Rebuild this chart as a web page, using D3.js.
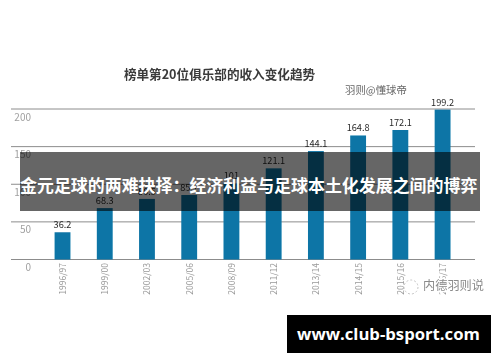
<!DOCTYPE html>
<html><head><meta charset="utf-8">
<style>html,body{margin:0;padding:0;background:#fff}svg{display:block}</style>
<script src="https://cdn.jsdelivr.net/npm/d3@7"></script></head>
<body><div id="c"></div>
<script>
const categories=["1996/97","1999/00","2002/03","2005/06","2008/09","2011/12","2013/14","2014/15","2015/16","2016/17"];
const valueLabels=["36.2","68.3","80.5","85.7","101","121.1","144.1","164.8","172.1","199.2"];
const values=[36.2,68.3,80.5,85.7,101,121.1,144.1,164.8,172.1,199.2];
const yTicks=[0,50,100,150,200];
const chartTitle="榜单第20位俱乐部的收入变化趋势";
const byline="羽则@懂球帝";
const bannerText="金元足球的两难抉择：经济利益与足球本土化发展之间的博弈";
const watermark="内德羽则说";
const siteText="www.club-bsport.com";
const font='"Noto Sans CJK SC","Open Sans",sans-serif';
const svg=d3.select("#c").append("svg").attr("width",500).attr("height",362).style("font-family",font);
const x=d3.scaleBand().domain(categories).range([41.4,463.7]).paddingInner(0.625).paddingOuter(0.3125);
const y=d3.scaleLinear().domain([0,200]).range([259.5,109]);
const defs=svg.append("defs");
defs.append("filter").attr("id","soft").append("feGaussianBlur").attr("stdDeviation",0.4);
const g=svg.append("g").attr("filter","url(#soft)");
g.append("text").attr("x",219.5).attr("y",78.5).attr("text-anchor","middle").attr("font-size",12.6).attr("font-weight",700).attr("fill","#3a3a3a").text(chartTitle);
g.append("text").attr("x",376).attr("y",93.5).attr("text-anchor","middle").attr("font-size",10.4).attr("fill","#666").text(byline);
g.append("g").selectAll("line").data(yTicks).join("line")
 .attr("x1",11).attr("x2",475).attr("y1",d=>y(d)).attr("y2",d=>y(d)).attr("stroke","#8c8c8c").attr("stroke-width",1);
g.append("g").selectAll("text").data(yTicks).join("text")
 .attr("x",31).attr("y",d=>y(d)+11.5).attr("text-anchor","end").attr("font-size",10).attr("fill","#a0a0a0").text(d=>d);
g.append("g").selectAll("rect").data(values).join("rect")
 .attr("x",(d,i)=>x(categories[i])).attr("width",x.bandwidth()).attr("y",d=>y(d)).attr("height",d=>y(0)-y(d)).attr("fill","#0a74a6");
g.append("g").selectAll("text").data(values).join("text")
 .attr("x",(d,i)=>x(categories[i])+x.bandwidth()/2).attr("y",d=>y(d)-4).attr("text-anchor","middle").attr("font-size",9.2).attr("fill","#2a2a2a").text((d,i)=>valueLabels[i]);
g.append("g").selectAll("text").data(categories).join("text")
 .attr("transform",d=>`translate(${x(d)+x.bandwidth()/2+3.5},263) rotate(-90)`).attr("text-anchor","end").attr("font-size",8.5).attr("fill","#999").text(d=>d);
g.append("circle").attr("cx",411).attr("cy",287).attr("r",7).attr("fill","#fff").attr("stroke","#c4c4c4").attr("stroke-dasharray","2 2");
g.append("text").attr("x",484).attr("y",289.5).attr("text-anchor","end").attr("font-size",12.2).attr("fill","#8a8a8a").attr("stroke","#fff").attr("stroke-width",3).attr("paint-order","stroke").text(watermark);
svg.append("rect").attr("x",20).attr("y",152).attr("width",460).attr("height",59).attr("fill","#000").attr("fill-opacity",.6);
svg.append("text").attr("x",20).attr("y",191.5).attr("font-size",16.95).attr("font-weight",700).attr("fill","#fff").text(bannerText);
svg.append("rect").attr("x",287).attr("y",315).attr("width",204).attr("height",38).attr("fill","#000");
svg.append("text").attr("x",388.5).attr("y",340).attr("text-anchor","middle").attr("font-family","'Open Sans',sans-serif").attr("font-size",16.7).attr("font-weight",700).attr("fill","#fff").text(siteText);
</script></body></html>
